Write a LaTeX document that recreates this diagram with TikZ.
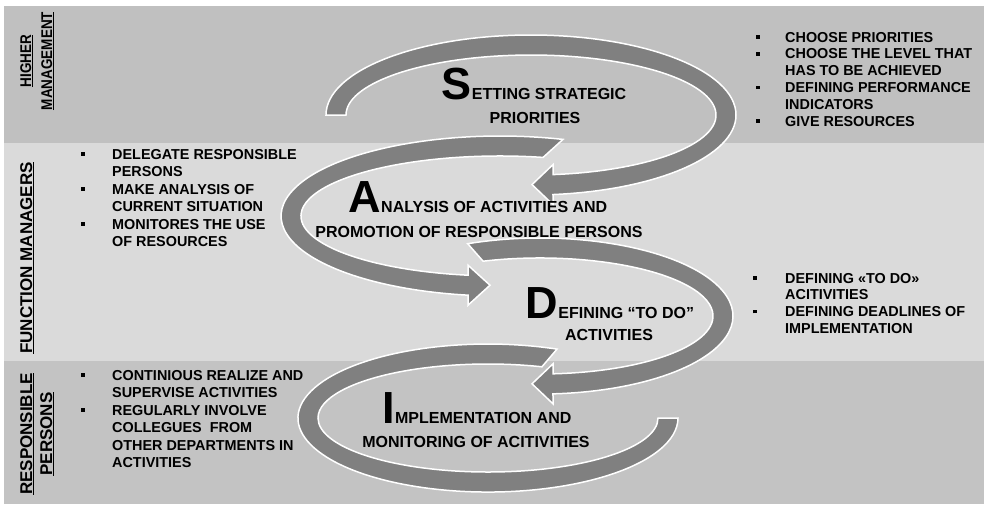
\documentclass[tikz,border=0pt]{standalone}
\usepackage{fontspec}
\setmainfont{Liberation Sans}
\definecolor{topband}{RGB}{192,192,192}
\definecolor{midband}{RGB}{218,218,218}
\definecolor{botband}{RGB}{195,195,195}
\definecolor{arrowgray}{RGB}{128,128,128}
\newcommand{\sq}{\rule[3.2pt]{3.5pt}{3.5pt}}
\newcommand{\initial}[1]{{\fontsize{45}{45}\selectfont #1}}
\newcommand{\narrow}[1]{\scalebox{0.87}[1]{#1}}
\tikzset{
  ribbon/.style={fill=arrowgray, draw=white, line width=1.5pt, line join=miter},
  title/.style={anchor=base, font=\fontsize{16}{19}\selectfont\bfseries, inner sep=0pt},
  sidelist/.style={anchor=base west, font=\fontsize{14.4}{16.8}\selectfont\bfseries, inner sep=0pt},
  sidelistb/.style={anchor=base west, font=\fontsize{14.4}{17.5}\selectfont\bfseries, inner sep=0pt},
  lane/.style={rotate=90, anchor=base, inner sep=0pt},
  lanesmall/.style={lane, font=\fontsize{15.5}{18}\selectfont\bfseries},
  lanebig/.style={lane, font=\fontsize{17}{20}\selectfont\bfseries}
}
\begin{document}
\begin{tikzpicture}[x=1pt,y=-1pt]
\useasboundingbox (0,0) rectangle (984,504);
\fill[white] (0,0) rectangle (984,504);
% bands
\fill[topband] (4,6) rectangle (984,143);
\fill[midband] (4,143) rectangle (984,361);
\fill[botband] (4,361) rectangle (984,504);

% lane labels
\node[lanesmall] (lh1) at (31,61) {\narrow{\underline{HIGHER}}};
\node[lanesmall] (lh2) at (52,61) {\narrow{\underline{MANAGEMENT}}};
\node[lanebig] (lf) at (32,258) {\underline{FUNCTION MANAGERS}};
\node[lanebig] (lr1) at (32,434) {\underline{RESPONSIBLE}};
\node[lanebig] (lr2) at (52,434) {\underline{PERSONS}};

% arrow 1 (S)
\draw[ribbon] (326,115) arc[start angle=180,end angle=443.84,x radius=205,y radius=80]
  -- (553,204.6) -- (532,184.6) -- (553,164.6) -- (553,174.6)
  arc[start angle=443.17,end angle=180,x radius=185,y radius=60] -- cycle;
% arrow 2 (A)
\draw[ribbon] (563,139.4) arc[start angle=286.7,end angle=98.4,x radius=219,y radius=80]
  -- (468,305.2) -- (490,285.2) -- (468,265.2) -- (468,275.2)
  arc[start angle=99.25,end angle=282.5,x radius=199,y radius=60] -- cycle;
% arrow 3 (D)
\draw[ribbon] (467.7,243.7) arc[start angle=248,end angle=446.14,x radius=193,y radius=78]
  -- (553,403.8) -- (532,383.8) -- (553,363.8) -- (553,373.8)
  arc[start angle=445.69,end angle=250.8,x radius=173,y radius=58] -- cycle;
% arrow 4 (I)
\draw[ribbon] (557,349.1) arc[start angle=291.3,end angle=0,x radius=190,y radius=74]
  -- (658,418) arc[start angle=0,end angle=288.5,x radius=170,y radius=54] -- cycle;

% titles
\node[title] (s1) at (534,99) {\initial{S}ETTING STRATEGIC};
\node[title] (s2) at (535,123) {PRIORITIES};
\node[title] (a1) at (478,212) {\initial{A}NALYSIS OF ACTIVITIES AND};
\node[title] (a2) at (479,237) {PROMOTION OF RESPONSIBLE PERSONS};
\node[title] (d1) at (610,318) {\initial{D}EFINING “TO DO”};
\node[title] (d2) at (609,340) {ACTIVITIES};
\node[title] (i1) at (477,423) {\initial{I}MPLEMENTATION AND};
\node[title] (i2) at (476,447) {MONITORING OF ACITIVITIES};

% side lists
\node[sidelist] (tr) at (756,42) {\begin{tabular}[t]{@{}p{29pt}@{}l@{}}
\sq & CHOOSE PRIORITIES\\
\sq & CHOOSE THE LEVEL THAT\\
    & HAS TO BE ACHIEVED\\
\sq & DEFINING PERFORMANCE\\
    & INDICATORS\\
\sq & GIVE RESOURCES
\end{tabular}};
\node[sidelistb] (ml) at (81,159) {\begin{tabular}[t]{@{}p{31pt}@{}l@{}}
\sq & DELEGATE RESPONSIBLE\\
    & PERSONS\\
\sq & MAKE ANALYSIS OF\\
    & CURRENT SITUATION\\
\sq & MONITORES THE USE\\
    & OF RESOURCES
\end{tabular}};
\node[sidelist] (mr) at (753,283) {\begin{tabular}[t]{@{}p{32pt}@{}l@{}}
\sq & DEFINING «TO DO»\\
    & ACITIVITIES\\
\sq & DEFINING DEADLINES OF\\
    & IMPLEMENTATION
\end{tabular}};
\node[sidelistb] (bl) at (81,380) {\begin{tabular}[t]{@{}p{31pt}@{}l@{}}
\sq & CONTINIOUS REALIZE AND\\
    & SUPERVISE ACTIVITIES\\
\sq & REGULARLY INVOLVE\\
    & COLLEGUES\ \ FROM\\
    & OTHER DEPARTMENTS IN\\
    & ACTIVITIES
\end{tabular}};
\end{tikzpicture}
\end{document}
